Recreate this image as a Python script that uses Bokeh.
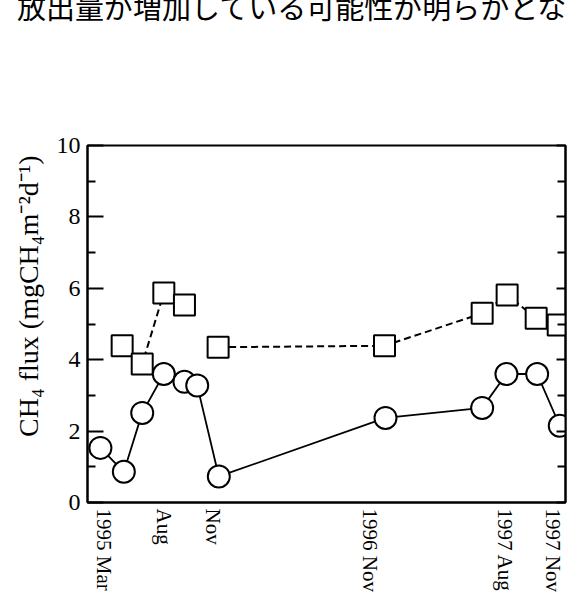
from bokeh.plotting import figure
from bokeh.layouts import column
from bokeh.models import Range1d, LinearAxis, FixedTicker, Title, Div
from bokeh.embed import file_html
from bokeh.resources import INLINE

# x positions: months counted from Jan 1995
tick_pos = [2.0, 6.21, 9.70, 20.96, 30.58, 34.0]
tick_labels = ["1995 Mar", "Aug", "Nov", "1996 Nov", "1997 Aug", "1997 Nov"]

circle_x = [1.71, 3.38, 4.69, 6.23, 7.70, 8.61, 10.15, 22.03, 28.92, 30.65, 32.84, 34.45]
circle_y = [1.53, 0.86, 2.51, 3.60, 3.38, 3.28, 0.73, 2.37, 2.65, 3.60, 3.60, 2.15]

square_x = [3.26, 4.69, 6.23, 7.70, 10.10, 21.96, 28.92, 30.70, 32.77, 34.34]
square_y = [4.39, 3.88, 5.87, 5.53, 4.35, 4.39, 5.30, 5.81, 5.16, 4.97]
square_group = [0, 0, 0, 0, 1, 1, 1, 1, 1, 1]

y_major = [0, 2, 4, 6, 8, 10]
y_minor = [1, 3, 5, 7, 9]

header = "放出量が増加している可能性が明らかとな"
ylabel = "CH₄ flux (mgCH₄m⁻²d⁻¹)"

W = 569
HH = 24          # strip holding the running text of the page
H = 594 - HH     # chart figure

# --- header strip (running text of the page above the chart) -------------
hdr = Div(text=('<span style="position:relative; top:-8px; left:17px; '
                'font-family:\'Noto Sans CJK JP\'; font-size:29px; line-height:29px; '
                'color:black; white-space:nowrap;">' + header + '</span>'),
          width=W, height=HH,
          styles={"overflow": "hidden", "white-space": "nowrap", "margin": "0",
                  "padding": "0", "background": "white"})

# --- chart --------------------------------------------------------------
p = figure(width=W, height=H, output_backend="svg", toolbar_location=None,
           x_range=Range1d(0.79, 34.86), y_range=Range1d(0, 10),
           min_border_left=87, min_border_right=4, min_border_top=145 - HH,
           min_border_bottom=91)
p.grid.visible = False
p.outline_line_color = "black"
p.outline_line_width = 2
p.background_fill_color = "white"
p.border_fill_color = "white"

xa = p.xaxis[0]
xa.ticker = FixedTicker(ticks=tick_pos)
xa.major_label_overrides = {t: l for t, l in zip(tick_pos, tick_labels)}
xa.major_label_orientation = "vertical"
xa.major_label_text_font = "Liberation Serif"
xa.major_label_text_font_size = "21px"
xa.major_label_text_color = "black"
xa.major_label_standoff = 6
xa.major_tick_in = 0
xa.major_tick_out = 0
xa.minor_tick_in = 0
xa.minor_tick_out = 0
xa.axis_line_width = 2
xa.axis_line_color = "black"

ya = p.yaxis[0]
ya.ticker = FixedTicker(ticks=y_major, minor_ticks=y_minor)
ya.major_tick_in = 16
ya.major_tick_out = 0
ya.minor_tick_in = 8
ya.minor_tick_out = 0
ya.major_tick_line_width = 2
ya.minor_tick_line_width = 2
ya.axis_line_width = 2
ya.axis_line_color = "black"
ya.major_label_text_font = "Liberation Serif"
ya.major_label_text_font_size = "24px"
ya.major_label_text_color = "black"
ya.major_label_standoff = 7

ra = LinearAxis(ticker=FixedTicker(ticks=y_major, minor_ticks=y_minor))
ra.major_tick_in = 9
ra.major_tick_out = 0
ra.minor_tick_in = 8
ra.minor_tick_out = 0
ra.major_tick_line_width = 2
ra.minor_tick_line_width = 2
ra.axis_line_width = 2
ra.major_label_overrides = {t: "" for t in y_major}
ra.major_label_standoff = 0
p.add_layout(ra, "right")

# y-axis title, outside the tick labels, its top end a little below the frame top
p.add_layout(Title(text=ylabel, align="right", offset=10, standoff=20,
                   text_font="Liberation Serif", text_font_size="28px",
                   text_font_style="normal", text_color="black"), "left")

# lines
p.line(circle_x, circle_y, line_color="black", line_width=1.8)
for g in sorted(set(square_group)):
    xs = [x for x, gg in zip(square_x, square_group) if gg == g]
    ys = [y for y, gg in zip(square_y, square_group) if gg == g]
    p.line(xs, ys, line_color="black", line_width=2, line_dash="7 4")

p.scatter(square_x, square_y, marker="square", size=21, fill_color="white",
          line_color="black", line_width=2)
p.scatter(circle_x, circle_y, marker="circle", size=22, fill_color="white",
          line_color="black", line_width=2)

page = column(hdr, p, spacing=0)
open("out.html", "w").write(file_html(page, INLINE))
